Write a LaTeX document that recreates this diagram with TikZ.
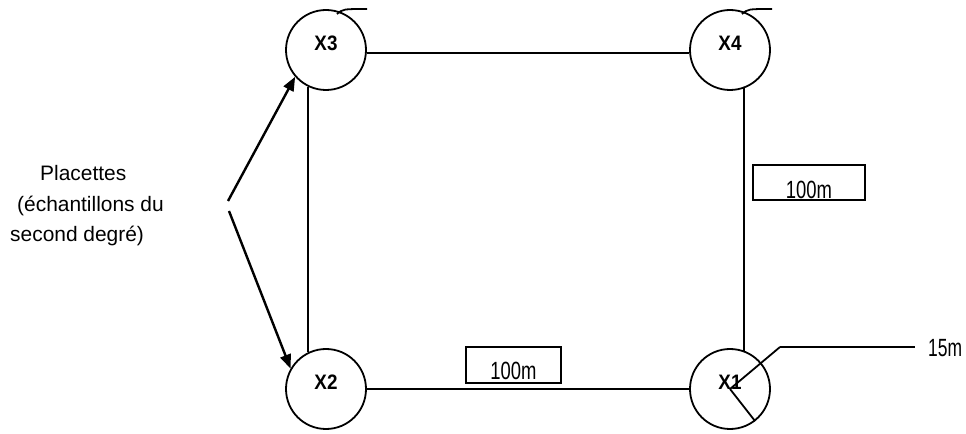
\documentclass[tikz,border=0pt]{standalone}
\usepackage{fontspec}
\setmainfont{Liberation Sans}
\usepackage{graphicx}
\usetikzlibrary{arrows.meta}
\newcommand\lowtext[3]{\raisebox{-#1}[0pt][0pt]{\scalebox{#2}[1]{#3}}}
\newcommand\plotlabel[1]{\scalebox{0.9}[1]{#1}}
\begin{document}
\begin{tikzpicture}[x=1bp,y=-1bp,
  plot/.style={circle, draw, line width=1.8bp, minimum size=80bp, inner sep=0,
    text height=1bp, text depth=0bp, font=\fontsize{21}{21}\bfseries\selectfont},
  edge/.style={line width=1.8bp},
  pointer/.style={line width=2.4bp, -{Triangle[length=14bp,width=11bp]}},
  lenbox/.style={draw, line width=1.8bp, inner sep=0},
  lenfont/.style={font=\fontsize{25}{25}\selectfont},
  note/.style={align=left, inner sep=0, font=\fontsize{21}{30.5}\selectfont}]
\useasboundingbox (0,0) rectangle (966,434);

\node[plot] (X3) at (326,50) {\plotlabel{X3}};
\node[plot] (X4) at (730,50) {\plotlabel{X4}};
\node[plot] (X2) at (326,389) {\plotlabel{X2}};
\node[plot] (X1) at (730,389) {\plotlabel{X1}};

\draw[edge] (X3.-4) -- (X4.184);
\draw[edge] (X3.-116.8) -- (X2.116.8);
\draw[edge] (X4.-70) -- (X1.70);
\draw[edge] (X2.east) -- (X1.west);

\draw[edge] (337,14) .. controls (343,9) .. (367,9);
\draw[edge] (742,14) .. controls (748,9) .. (772,9);

\node[lenbox, lenfont, minimum width=95bp, minimum height=36bp] (b1) at (513.5,365) {\lowtext{15bp}{0.74}{100m}};
\node[lenbox, lenfont, minimum width=112bp, minimum height=35bp] (b2) at (809,182.5) {\lowtext{16.5bp}{0.74}{100m}};

\node[note, anchor=north west] (txt) at (10,165.5) {\hspace*{30bp}Placettes\\\hspace*{7bp}(échantillons du\\second degré)};
\coordinate (p1) at (228,201);
\coordinate (p2) at (229,211);
\draw[pointer] (p1) -- (X3.221);
\draw[pointer] (p2) -- (X2.150);

\node[lenfont, inner sep=0, anchor=west] (l15) at (928,348) {\scalebox{0.7}[1]{15m}};
\coordinate (r1) at (780,347);
\draw[edge] (X1.center) -- (r1);
\draw[edge, shorten >=13bp] (r1) -- (r1 -| l15.west);
\draw[edge] (X1.center) -- (X1.-52);
\end{tikzpicture}
\end{document}
